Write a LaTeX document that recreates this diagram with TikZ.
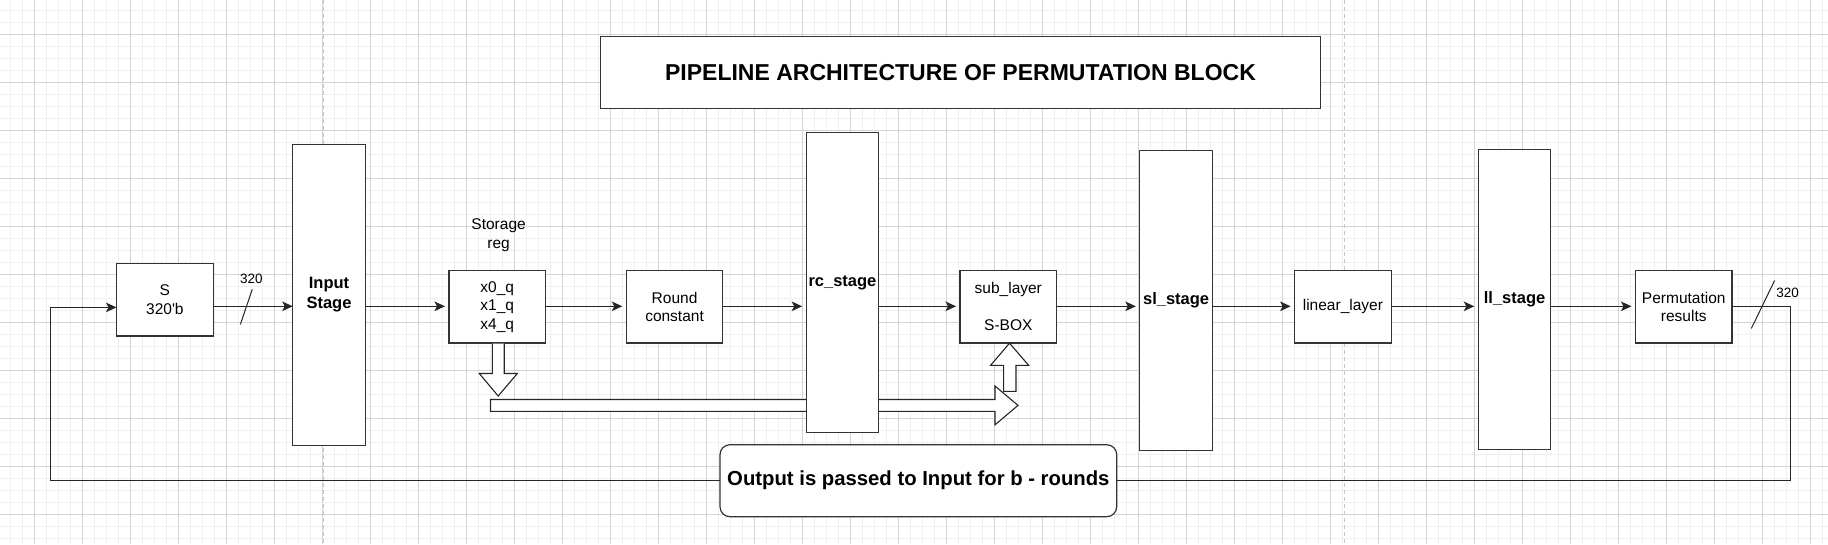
\documentclass[tikz,border=0pt]{standalone}
\usepackage{fontspec}
\setmainfont{Liberation Sans}[Ligatures=TeXOff]
\usetikzlibrary{arrows.meta}
\tikzset{
  blk/.style={draw=black!80, line width=1.2pt, fill=white, inner sep=0pt, outer sep=0pt, align=center, text=black, font=\fontsize{15.5}{18.5}\selectfont},
  stg/.style={blk, minimum width=72.5pt, minimum height=300pt, font=\bfseries\fontsize{16.5}{20}\selectfont},
  sm/.style={blk, minimum width=96.5pt, minimum height=72.3pt},
  lbl/.style={inner sep=0pt, align=center, font=\fontsize{15.5}{19}\selectfont},
  bus/.style={inner sep=0pt, font=\fontsize{13.5}{16}\selectfont},
  conn/.style={line width=1.2pt, draw=black!85},
  arr/.style={conn, -{Stealth[length=10.5pt,width=9.5pt,inset=2.5pt]}},
  hollow/.style={draw=black!85, line width=1.1pt, fill=white, line join=miter},
  gmaj/.style={draw=black!17, line width=0.9pt},
  gmin/.style={draw=black!6, line width=1pt},
  pgbrk/.style={draw=black!22, line width=1pt, dash pattern=on 4pt off 3pt},
}
\begin{document}
\begin{tikzpicture}[x=1pt, y=-1pt]
\useasboundingbox (0,0) rectangle (1828,544);
\fill[white] (0,0) rectangle (1828,544);
% grid
\foreach \k in {0,...,151} {\draw[gmin] ({10.3+12*\k},0) -- ({10.3+12*\k},544);}
\foreach \k in {0,...,44} {\draw[gmin] (0,{10.3+12*\k}) -- (1828,{10.3+12*\k});}
\foreach \k in {0,...,37} {\draw[gmaj] ({34.3+48*\k},0) -- ({34.3+48*\k},544);}
\foreach \k in {0,...,10} {\draw[gmaj] (0,{34.3+48*\k}) -- (1828,{34.3+48*\k});}
\draw[pgbrk] (323.4,0) -- (323.4,544);
\draw[pgbrk] (1344,0) -- (1344,544);

% title
\node[blk, minimum width=720.3pt, minimum height=72pt, font=\bfseries\fontsize{23}{27}\selectfont] (title) at (960.5,72.7) {PIPELINE ARCHITECTURE OF PERMUTATION BLOCK};

% row coordinate
\coordinate (row) at (0,306.3);

% small boxes
\node[blk, minimum width=96.8pt, minimum height=72.4pt] (sbox) at (164.9,299.8) {S\\320'b};
\node[sm] (stor) at (497.25,306.85) {x0\_q\\x1\_q\\x4\_q};
\node[lbl] (storlbl) at (498.6,235.5) {Storage\\reg};
\node[sm] (rnd) at (674.55,306.85) {Round\\constant};
\node[sm] (sub) at (1008.3,306.85) {sub\_layer\\[18.5pt]S-BOX};
\node[sm] (lin) at (1342.9,306.85) {linear\_layer};
\node[sm] (perm) at (1683.75,306.85) {Permutation\\results};

% hollow (flex) arrows
\draw[hollow] (490.5,399.5) -- (995,399.5) -- (995,386) -- (1018,405.4) -- (995,424.8) -- (995,411.4) -- (490.5,411.4) -- cycle;
\draw[hollow] (492.3,343.5) -- (492.3,373.5) -- (479.3,373.5) -- (498.2,396) -- (517.3,373.5) -- (504.2,373.5) -- (504.2,343.5);
\draw[hollow] (1003.6,391.3) -- (1003.6,365.3) -- (990.6,365.3) -- (1009.5,343.2) -- (1028.6,365.3) -- (1016,365.3) -- (1016,391.3) -- cycle;

% stage boxes
\node[stg, minimum height=300.5pt] (inp) at (329,294.95) {Input\\Stage};
\node[stg] (rc) at (842.45,282.7) {rc\_stage};
\node[stg] (sl) at (1176.1,300.7) {sl\_stage};
\node[stg] (ll) at (1514.55,299.5) {ll\_stage};

% forward connectors
\draw[arr] (sbox.east |- row) -- (inp.west |- row);
\draw[arr] (inp.east |- row) -- ([xshift=-4pt]stor.west |- row);
\draw[arr] (stor.east |- row) -- ([xshift=-4pt]rnd.west |- row);
\draw[arr] (rnd.east |- row) -- ([xshift=-4pt]rc.west |- row);
\draw[arr] (rc.east |- row) -- ([xshift=-4pt]sub.west |- row);
\draw[arr] (sub.east |- row) -- ([xshift=-4pt]sl.west |- row);
\draw[arr] (sl.east |- row) -- ([xshift=-4pt]lin.west |- row);
\draw[arr] (lin.east |- row) -- ([xshift=-4pt]ll.west |- row);
\draw[arr] (ll.east |- row) -- ([xshift=-4pt]perm.west |- row);

% feedback loop
\coordinate (lpR) at (1790.5,306.3);
\coordinate (lpBR) at (1790.5,480.7);
\coordinate (lpBL) at (50.5,480.7);
\coordinate (lpL) at (50.5,307.4);
\draw[arr] (perm.east |- row) -- (lpR) -- (lpBR) -- (lpBL) -- (lpL) -- (sbox.west |- lpL);

% bus width marks
\coordinate (s1a) at (240.4,324.4);
\coordinate (s1b) at (252.3,289.2);
\draw[conn, line width=1pt] (s1a) -- (s1b);
\node[bus] (b1) at (251.3,278.7) {320};
\coordinate (s2a) at (1751.3,328.5);
\coordinate (s2b) at (1774.6,280.5);
\draw[conn, line width=1pt] (s2a) -- (s2b);
\node[bus] (b2) at (1787.5,293.3) {320};

% output note
\node[blk, rounded corners=10pt, minimum width=396.7pt, minimum height=72pt, font=\bfseries\fontsize{20.3}{24}\selectfont] (out) at (918.35,480.7) {Output is passed to Input for b - rounds};
\end{tikzpicture}
\end{document}
